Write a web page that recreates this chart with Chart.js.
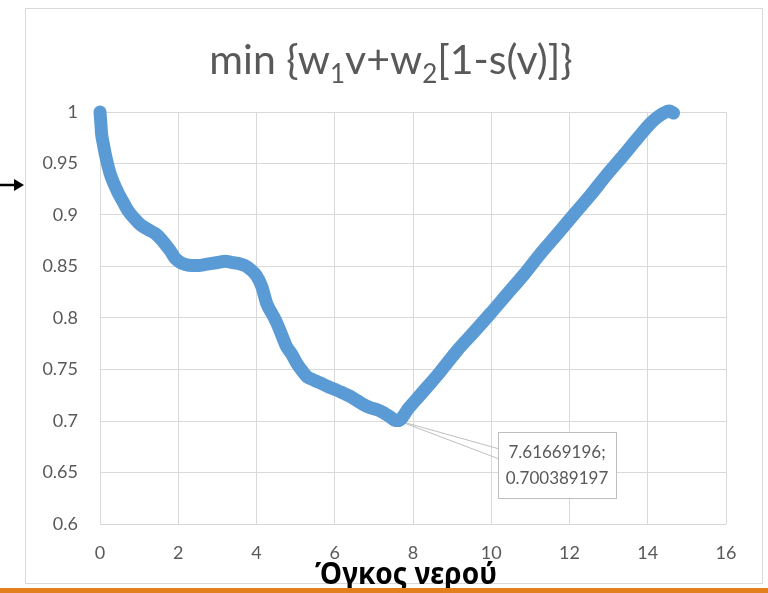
<!DOCTYPE html>
<html>
<head>
<meta charset="utf-8">
<script src="https://cdn.jsdelivr.net/npm/chart.js@4/dist/chart.umd.min.js"></script>
<style>
  html, body { margin: 0; padding: 0; background: #ffffff; }
  #wrap { position: relative; width: 768px; height: 593px; }
  canvas { display: block; }
</style>
</head>
<body>
<div id="wrap"><canvas id="chart" width="768" height="593"></canvas></div>
<script>
// Water volume (x) and objective value (y) along the curve
const volume = [0, 0.02, 0.04, 0.08, 0.13, 0.19, 0.26, 0.36, 0.47, 0.60, 0.72, 0.87, 1.02, 1.22, 1.41, 1.55, 1.66, 1.80, 1.92, 2.05, 2.18, 2.35, 2.52, 2.70, 2.86, 3.03, 3.20, 3.36, 3.53, 3.70, 3.85, 4.00, 4.14, 4.26, 4.40, 4.52, 4.65, 4.77, 4.90, 5.03, 5.16, 5.29, 5.45, 5.63, 5.85, 6.05, 6.22, 6.39, 6.56, 6.73, 6.90, 7.08, 7.20, 7.33, 7.45, 7.52, 7.61669196, 7.90, 8.27, 8.70, 9.12, 9.55, 9.97, 10.40, 10.83, 11.25, 11.68, 12.10, 12.53, 12.95, 13.38, 13.75, 14.07, 14.25, 14.41, 14.55, 14.66];
const cost   = [1.000, 0.990, 0.979, 0.970, 0.960, 0.950, 0.940, 0.930, 0.921, 0.912, 0.904, 0.897, 0.891, 0.886, 0.882, 0.877, 0.872, 0.865, 0.858, 0.854, 0.852, 0.851, 0.851, 0.852, 0.853, 0.854, 0.855, 0.854, 0.853, 0.851, 0.847, 0.841, 0.830, 0.814, 0.804, 0.795, 0.783, 0.772, 0.765, 0.756, 0.749, 0.743, 0.740, 0.737, 0.733, 0.730, 0.727, 0.724, 0.720, 0.716, 0.713, 0.711, 0.709, 0.706, 0.703, 0.701, 0.700389197, 0.713, 0.729, 0.748, 0.768, 0.786, 0.804, 0.823, 0.842, 0.862, 0.881, 0.900, 0.919, 0.939, 0.958, 0.975, 0.989, 0.995, 0.999, 1.001, 0.999];

// Axis ticks and labels
const xTicks = [0, 2, 4, 6, 8, 10, 12, 14, 16];
const yTicks = [0.6, 0.65, 0.7, 0.75, 0.8, 0.85, 0.9, 0.95, 1];
const yTickLabels = ['0.6', '0.65', '0.7', '0.75', '0.8', '0.85', '0.9', '0.95', '1'];

// Highlighted minimum of the objective
const minPoint = { x: 7.61669196, y: 0.700389197 };
const minLabelLines = ['7.61669196;', '0.700389197'];

// Title pieces (normal text and subscripts)
const titleParts = [
  { text: 'min {w', sub: false },
  { text: '1', sub: true },
  { text: 'v+w', sub: false },
  { text: '2', sub: true },
  { text: '[1-s(v)]}', sub: false }
];
const xAxisTitle = 'Όγκος νερού';

const GRAY_TEXT = '#595959';
const GRID = '#D9D9D9';
const FONT = 'Lato, "Open Sans", sans-serif';

const decor = {
  id: 'decor',
  beforeDraw(chart) {
    const ctx = chart.ctx;
    ctx.save();
    ctx.fillStyle = '#ffffff';
    ctx.fillRect(0, 0, chart.width, chart.height);
    // chart frame
    ctx.strokeStyle = GRID;
    ctx.lineWidth = 1;
    ctx.strokeRect(25.5, 8.5, 737, 575);
    // pointer arrow on the left
    ctx.strokeStyle = '#000000';
    ctx.lineWidth = 2.5;
    ctx.beginPath();
    ctx.moveTo(0, 185);
    ctx.lineTo(16, 185);
    ctx.stroke();
    ctx.fillStyle = '#000000';
    ctx.beginPath();
    ctx.moveTo(14, 179);
    ctx.lineTo(24, 185);
    ctx.lineTo(14, 191);
    ctx.closePath();
    ctx.fill();
    ctx.restore();
  },
  beforeDatasetsDraw(chart) {
    const ctx = chart.ctx;
    const px = chart.scales.x.getPixelForValue(minPoint.x);
    const py = chart.scales.y.getPixelForValue(minPoint.y);
    const bx = px + 100, by = py + 11;
    ctx.save();
    ctx.strokeStyle = '#BFBFBF';
    ctx.lineWidth = 1;
    ctx.beginPath();
    ctx.moveTo(px, py);
    ctx.lineTo(bx, by + 17);
    ctx.moveTo(px, py);
    ctx.lineTo(bx, by + 27);
    ctx.stroke();
    ctx.restore();
  },
  afterDatasetsDraw(chart) {
    const ctx = chart.ctx;
    const px = chart.scales.x.getPixelForValue(minPoint.x);
    const py = chart.scales.y.getPixelForValue(minPoint.y);
    const bx = px + 100, by = py + 11, bw = 118, bh = 66;
    ctx.save();
    ctx.fillStyle = '#ffffff';
    ctx.fillRect(bx, by, bw, bh);
    ctx.strokeStyle = '#BFBFBF';
    ctx.lineWidth = 1;
    ctx.strokeRect(Math.round(bx) + 0.5, Math.round(by) + 0.5, bw, bh);
    ctx.fillStyle = GRAY_TEXT;
    ctx.font = '17px ' + FONT;
    ctx.textAlign = 'center';
    ctx.textBaseline = 'middle';
    ctx.fillText(minLabelLines[0], bx + bw / 2, by + 21);
    ctx.fillText(minLabelLines[1], bx + bw / 2, by + 47);
    ctx.restore();
  },
  afterDraw(chart) {
    const ctx = chart.ctx;
    ctx.save();
    // title with subscripts
    const size = 41, subSize = 26;
    let total = 0;
    titleParts.forEach(p => {
      ctx.font = (p.sub ? subSize : size) + 'px ' + FONT;
      total += ctx.measureText(p.text).width;
    });
    let x = 391 - total / 2;
    const base = 74;
    ctx.fillStyle = GRAY_TEXT;
    ctx.textBaseline = 'alphabetic';
    ctx.textAlign = 'left';
    titleParts.forEach(p => {
      ctx.font = (p.sub ? subSize : size) + 'px ' + FONT;
      ctx.fillText(p.text, x, p.sub ? base + 9 : base);
      x += ctx.measureText(p.text).width;
    });
    // horizontal axis caption, set in a condensed bold face
    ctx.fillStyle = '#000000';
    ctx.font = 'bold 30px "Noto Sans", "Open Sans", sans-serif';
    const w = ctx.measureText(xAxisTitle).width;
    ctx.translate(406, 584);
    ctx.scale(182 / w, 1);
    ctx.textAlign = 'center';
    ctx.fillText(xAxisTitle, 0, 0);
    ctx.setTransform(1, 0, 0, 1, 0, 0);
    // orange rule along the bottom
    ctx.fillStyle = '#E47F1E';
    ctx.fillRect(0, 588, chart.width, 5);
    ctx.restore();
  }
};

new Chart(document.getElementById('chart'), {
  type: 'scatter',
  data: {
    datasets: [{
      data: volume.map((v, i) => ({ x: v, y: cost[i] })),
      showLine: true,
      borderColor: '#5B9BD5',
      backgroundColor: '#5B9BD5',
      borderWidth: 13,
      borderCapStyle: 'round',
      borderJoinStyle: 'round',
      cubicInterpolationMode: 'monotone',
      pointRadius: 0,
      pointHoverRadius: 0,
      clip: false
    }]
  },
  options: {
    responsive: false,
    animation: false,
    events: [],
    layout: { padding: { left: 0, top: 112, right: 42, bottom: 0 } },
    plugins: {
      legend: { display: false },
      title: { display: false },
      tooltip: { enabled: false }
    },
    scales: {
      x: {
        type: 'linear',
        min: 0,
        max: 16,
        afterBuildTicks: s => { s.ticks = xTicks.map(v => ({ value: v })); },
        afterFit: s => { s.height = 69; },
        grid: { color: GRID, drawTicks: false },
        border: { display: false },
        ticks: { color: GRAY_TEXT, font: { family: FONT, size: 18 }, padding: 18, maxRotation: 0, autoSkip: false }
      },
      y: {
        type: 'linear',
        min: 0.6,
        max: 1,
        afterBuildTicks: s => { s.ticks = yTicks.map(v => ({ value: v })); },
        afterFit: s => { s.width = 100; },
        grid: { color: GRID, drawTicks: false },
        border: { display: false },
        ticks: {
          color: GRAY_TEXT,
          font: { family: FONT, size: 18 },
          padding: 22,
          autoSkip: false,
          callback: (v) => yTickLabels[yTicks.findIndex(t => Math.abs(t - v) < 1e-9)]
        }
      }
    }
  },
  plugins: [decor]
});
</script>
</body>
</html>
